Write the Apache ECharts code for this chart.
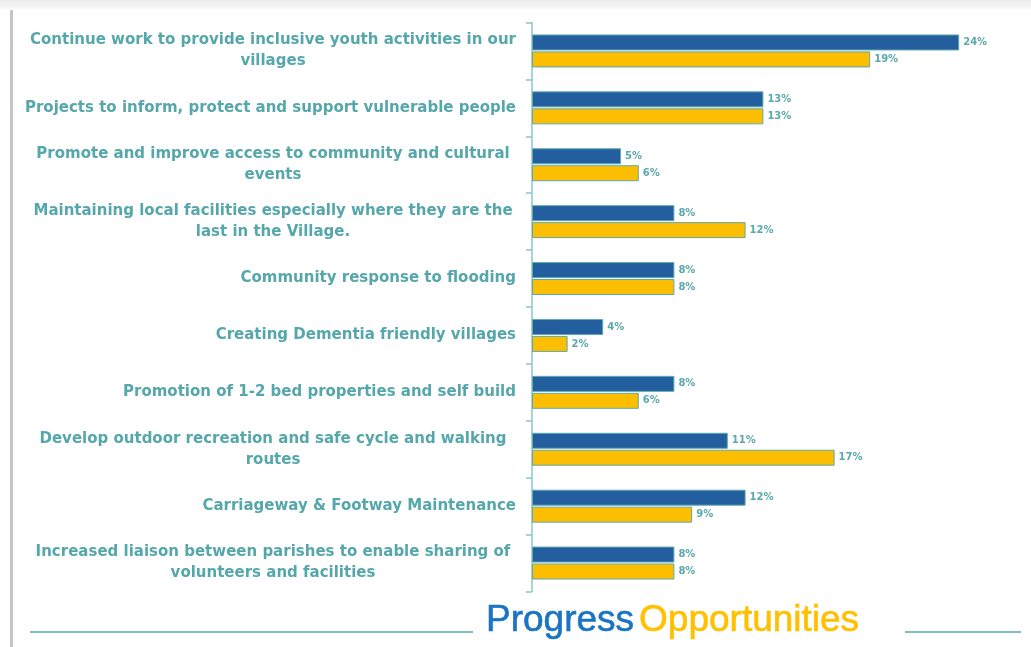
<!DOCTYPE html>
<html>
<head>
<meta charset="utf-8">
<script src="https://cdn.jsdelivr.net/npm/echarts@6/dist/echarts.min.js"></script>
<style>
html,body{margin:0;padding:0;background:#fff;}
#c{width:1031px;height:647px;}
</style>
</head>
<body>
<div id="c"></div>
<script>
const categories = [
  "Continue work to provide inclusive youth activities in our\nvillages",
  "Projects to inform, protect and support vulnerable people",
  "Promote and improve access to community and cultural\nevents",
  "Maintaining local facilities especially where they are the\nlast in the Village.",
  "Community response to flooding",
  "Creating Dementia friendly villages",
  "Promotion of 1-2 bed properties and self build",
  "Develop outdoor recreation and safe cycle and walking\nroutes",
  "Carriageway & Footway Maintenance",
  "Increased liaison between parishes to enable sharing of\nvolunteers and facilities"
];
const progressValues = [24, 13, 5, 8, 8, 4, 8, 11, 12, 8];
const opportunitiesValues = [19, 13, 6, 12, 8, 2, 6, 17, 9, 8];
const titleWords = ["Progress", "Opportunities"];

const teal = '#55a7ab';
const labelFont = 'DejaVu Sans';
const chart = echarts.init(document.getElementById('c'), null, {renderer: 'canvas'});

function labelFmt(v) {
  const lines = v.split('\n');
  if (lines.length === 1) return v;
  return lines.map(l => '{c|' + l + '}').join('\n');
}

const barLabel = {
  show: true, position: 'right', distance: 4,
  formatter: '{c}%', color: '#5aa8ab', fontSize: 10, fontWeight: 'bold',
  fontFamily: 'DejaVu Sans'
};

chart.setOption({
  animation: false,
  backgroundColor: '#ffffff',
  title: {
    text: '{a|' + titleWords[0] + '} {b|' + titleWords[1] + '}',
    left: 481, top: 597,
    textStyle: {
      rich: {
        a: {color: '#1a74c2', fontSize: 37, fontFamily: 'Liberation Sans', fontWeight: 'normal', textBorderColor: '#1a74c2', textBorderWidth: 0.6},
        b: {color: '#ffc000', fontSize: 37, fontFamily: 'Liberation Sans', fontWeight: 'normal', textBorderColor: '#ffc000', textBorderWidth: 0.6}
      }
    }
  },
  graphic: [
    {type: 'rect', shape: {x: 0, y: 0, width: 1031, height: 9}, style: {fill: new echarts.graphic.LinearGradient(0,0,0,1,[{offset:0,color:'#ececec'},{offset:1,color:'#f8f8f8'}])}, silent: true},
    {type: 'rect', shape: {x: 10, y: 10, width: 3, height: 637}, style: {fill: '#c4c4c4'}, silent: true},
    {type: 'line', shape: {x1: 30, y1: 632, x2: 473, y2: 632}, style: {stroke: '#7fc0c2', lineWidth: 2}, silent: true},
    {type: 'line', shape: {x1: 905, y1: 632, x2: 1021, y2: 632}, style: {stroke: '#7fc0c2', lineWidth: 2}, silent: true}
  ],
  grid: {left: 532, top: 22.5, width: 445, height: 569, containLabel: false},
  xAxis: {
    type: 'value', min: 0, max: 25, show: false,
    splitLine: {show: false}
  },
  yAxis: {
    type: 'category', inverse: true, data: categories,
    axisLine: {show: true, lineStyle: {color: '#8cc6c7', width: 1.5}},
    axisTick: {show: true, length: 6, lineStyle: {color: '#8cc6c7', width: 1.5}},
    axisLabel: {
      margin: 16, align: 'right',
      color: teal, fontSize: 15, fontWeight: 'bold', fontFamily: labelFont,
      lineHeight: 21,
      formatter: labelFmt,
      rich: {
        c: {width: 486, align: 'center', color: teal, fontSize: 15, fontWeight: 'bold', fontFamily: labelFont, lineHeight: 21}
      }
    }
  },
  series: [
    {
      name: titleWords[0], type: 'bar', data: progressValues,
      barWidth: 16, barGap: '6%',
      itemStyle: {color: '#235f9e', borderColor: '#5fa9ad', borderWidth: 1},
      label: barLabel
    },
    {
      name: titleWords[1], type: 'bar', data: opportunitiesValues,
      barWidth: 16,
      itemStyle: {color: '#fbbe00', borderColor: '#5fa9ad', borderWidth: 1},
      label: barLabel
    }
  ]
});
</script>
</body>
</html>
